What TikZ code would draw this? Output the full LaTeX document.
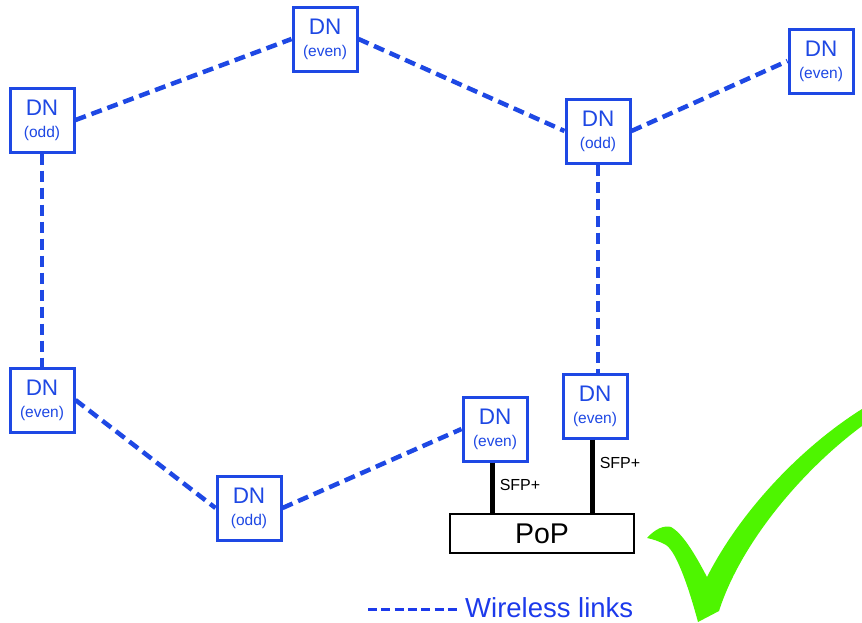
\documentclass[tikz,border=0pt]{standalone}
\usepackage{fontspec}
\setmainfont{Liberation Sans}
\definecolor{dnblue}{RGB}{30,72,228}
\definecolor{lgblue}{RGB}{28,58,235}
\definecolor{chkgreen}{RGB}{78,245,0}
\tikzset{
  dn/.style={draw=dnblue, line width=3pt, fill=white, minimum width=64pt, minimum height=64pt,
    inner sep=0pt, align=center, text=dnblue, font=\fontsize{22.5}{23}\selectfont},
  wl/.style={draw=dnblue, line width=4.5pt, dash pattern=on 11pt off 6pt},
  sfp/.style={draw=black, line width=5pt},
  sfplbl/.style={font=\fontsize{16}{17}\selectfont, text=black, inner sep=0pt},
}
\newcommand{\sub}[1]{\\[-1pt]{\fontsize{15.5}{17}\selectfont #1}}
\begin{document}
\begin{tikzpicture}[x=1pt,y=-1pt]
\useasboundingbox (0,0) rectangle (862,622);
% nodes
\node[dn] (topeven) at (325,39) {DN\sub{(even)}};
\node[dn] (leftodd) at (42,120) {DN\sub{(odd)}};
\node[dn] (rightodd) at (598,131) {DN\sub{(odd)}};
\node[dn] (farright) at (821,61) {DN\sub{(even)}};
\node[dn] (lefteven) at (42,400) {DN\sub{(even)}};
\node[dn] (botodd) at (249,508) {DN\sub{(odd)}};
\node[dn] (popeven1) at (495,429) {DN\sub{(even)}};
\node[dn] (popeven2) at (595,406) {DN\sub{(even)}};
\node[draw=black, line width=1.5pt, minimum width=184pt, minimum height=39pt, inner sep=0pt,
  font=\fontsize{28.5}{29}\selectfont] (pop) at (542,533.5) {PoP};
% wireless links
\draw[wl] (leftodd.east) -- (topeven.west);
\draw[wl] (topeven.east) -- (rightodd.west);
\draw[wl] (rightodd.east) -- (farright.west);
\draw[wl] (leftodd.south) -- (lefteven.north);
\draw[wl] (lefteven.east) -- (botodd.west);
\draw[wl] (botodd.east) -- (popeven1.west);
\draw[wl] (rightodd.south) -- (rightodd.south |- popeven2.north);
% SFP+ links
\draw[sfp] (popeven1.south -| 492,0) -- (pop.north -| 492,0);
\draw[sfp] (popeven2.south -| 592,0) -- (pop.north -| 592,0);
\node[sfplbl] (sfp1) at (520,485) {SFP+};
\node[sfplbl] (sfp2) at (620,463) {SFP+};
% legend
\coordinate (lg1) at (368,609);
\coordinate (lg2) at (460,609);
\draw[draw=lgblue, line width=3pt, dash pattern=on 9pt off 4.3pt] (lg1) -- (lg2);
\node[anchor=base west, inner sep=0pt, text=lgblue, font=\fontsize{27.5}{28}\selectfont] (lgtext) at (465,617) {Wireless links};
% check mark
\fill[chkgreen] (647,538) .. controls (655,529) and (664,525) .. (671,527)
  .. controls (684,534) and (698,560) .. (707,577)
  .. controls (740,512) and (800,448) .. (862,409) -- (862,426)
  .. controls (800,472) and (740,545) .. (719,611) -- (698,622)
  .. controls (690,592) and (677,552) .. (666,545)
  .. controls (659,541) and (652,539) .. (647,538) -- cycle;
\end{tikzpicture}
\end{document}
